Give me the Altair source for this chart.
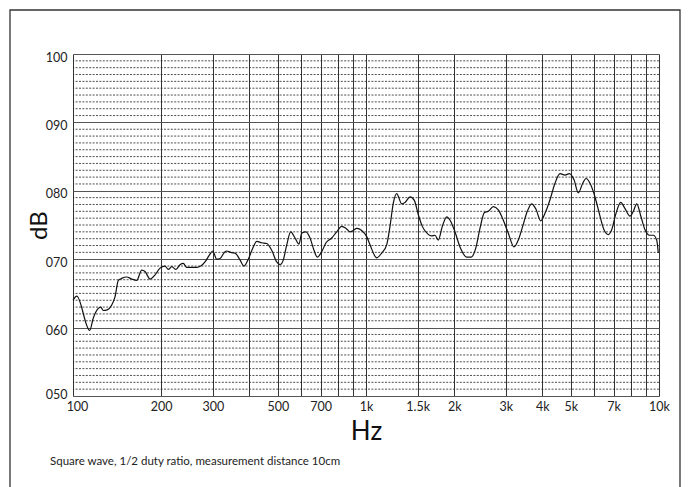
import altair as alt
import pandas as pd

# Frequency response (Hz, dB)
freq_hz = [100, 103, 114, 117.3, 122, 124.3, 126.9, 130.9, 135.6, 139.1,
           142.8, 146.6, 152.5, 158.6, 165, 171.6, 176.1, 183.2, 190.5, 198.2,
           206, 211.5, 217.3, 224.7, 231.9, 237.9, 244.4, 254.2, 264.4, 272.9,
           282.2, 292, 299.9, 309.4, 317.6, 330.2, 334.6, 348, 357.2, 371.5,
           383.4, 396.6, 410.6, 423.6, 440.6, 458.3, 476.7, 495.7, 508.8, 522.2,
           536.4, 553.4, 572.4, 590.7, 603.3, 624.1, 644.1, 664.6, 682.1, 706.1,
           730.4, 763.8, 794.3, 826.2, 854.5, 881.9, 905.1, 929.6, 966.7, 1005.6,
           1032, 1087.7, 1131.3, 1176.5, 1207.5, 1239.3, 1272.9, 1323.8, 1358.6, 1413.2,
           1461.7, 1508.4, 1556.7, 1624, 1676, 1720, 1765.5, 1821.6, 1885.6, 1936,
           2001, 2093, 2207, 2283, 2369, 2449, 2534, 2615, 2720, 2829,
           2942, 3060, 3200, 3310, 3426, 3552, 3677, 3804, 3947, 4082,
           4246, 4416, 4594, 4778, 4943, 5128, 5304, 5490, 5635, 5814,
           6047, 6254, 6490, 6714, 6896, 7133, 7402, 7656, 7962, 8172,
           8393, 8681, 8960, 9267, 9561, 9820, 9945]
level_db = [64.0, 64.6, 59.6, 61.4, 62.8, 63.0, 62.5, 62.6, 63.3, 64.5,
            66.9, 67.2, 67.4, 67.1, 66.9, 68.4, 68.2, 67.1, 67.7, 68.7,
            69.0, 68.5, 68.9, 68.5, 69.2, 69.4, 68.8, 68.8, 68.8, 69.0,
            69.6, 70.6, 71.2, 70.0, 70.1, 71.1, 71.2, 70.95, 70.9, 69.9,
            69.0, 70.0, 71.6, 72.6, 72.4, 72.3, 71.3, 69.6, 69.2, 69.9,
            72.1, 74.0, 73.1, 72.2, 73.8, 74.0, 73.1, 71.3, 70.3, 71.1,
            72.4, 73.1, 74.0, 74.8, 74.5, 74.0, 74.2, 74.5, 74.2, 73.3,
            72.1, 70.2, 70.9, 72.1, 74.8, 78.2, 79.6, 78.1, 78.3, 79.1,
            78.6, 76.5, 74.8, 73.7, 73.4, 73.5, 72.8, 74.8, 76.2, 75.7,
            74.3, 71.8, 70.3, 70.3, 71.6, 74.5, 76.8, 77.0, 77.7, 77.2,
            75.7, 73.8, 71.8, 72.8, 74.8, 77.0, 78.1, 77.3, 75.6, 76.7,
            78.7, 81.1, 82.5, 82.3, 82.5, 81.6, 79.7, 81.1, 81.8, 81.1,
            79.1, 76.7, 74.3, 73.6, 74.3, 76.7, 78.3, 77.4, 76.3, 77.0,
            78.1, 76.2, 74.3, 73.5, 73.5, 72.8, 70.9]

x_grid = [100, 200, 300, 400, 500, 600, 700, 800, 900, 1000, 1500,
          2000, 3000, 4000, 5000, 6000, 7000, 8000, 9000, 10000]
x_labels = [100, 200, 300, 500, 700, 1000, 1500, 2000, 3000, 4000, 5000, 7000, 10000]
y_major = [50, 60, 70, 80, 90, 100]
y_minor = [v for v in range(51, 100) if v % 10 != 0]
footnote = "Square wave, 1/2 duty ratio, measurement distance 10cm"

FONT = "Lato"

df = pd.DataFrame({"f": freq_hz, "db": level_db})
minor_df = pd.DataFrame({"db": y_minor})

x_scale = alt.Scale(type="log", domain=[100, 10000], nice=False)
y_scale = alt.Scale(domain=[50, 100], nice=False, zero=False)

label_list = "[" + ",".join(str(v) for v in x_labels) + "]"
x_axis = alt.Axis(
    values=x_grid,
    grid=True, gridColor="#333333", gridWidth=1, gridOpacity=1,
    ticks=False, domain=False,
    labelExpr=f"indexof({label_list}, datum.value) >= 0 ? (datum.value >= 1000 ? (datum.value/1000) + 'k' : '' + datum.value) : ''",
    labelFont=FONT, labelFontSize=12.5, labelColor="#222222", labelPadding=4,
    labelFlush=False, labelOverlap=False,
    labelOffset={"condition": {"test": "datum.value <= 100", "value": 4}, "value": 0},
    title="Hz", titleFont=FONT, titleFontSize=26, titleFontWeight="normal",
    titleColor="#111111", titleBaseline="alphabetic", titleY=43,
)
y_axis = alt.Axis(
    values=y_major,
    grid=True, gridColor="#555555", gridWidth=1.2, gridOpacity=1,
    ticks=False, domain=False,
    labelExpr="datum.value >= 100 ? '' + datum.value : '0' + datum.value",
    labelFont=FONT, labelFontSize=12.5, labelColor="#222222", labelPadding=6,
    labelBaseline="middle", labelFlush=False,
    labelOffset={"condition": {"test": "datum.value <= 50", "value": -2}, "value": 3},
    title="dB", titleFont=FONT, titleFontSize=24, titleFontWeight="normal",
    titleColor="#111111", titleBaseline="alphabetic", titleX=-27, titleAngle=270,
)

minor = alt.Chart(minor_df).mark_rule(
    color="#222222", strokeWidth=0.8, strokeDash=[2, 1.4]
).encode(y=alt.Y("db:Q", scale=y_scale, axis=y_axis))

line = alt.Chart(df).mark_line(
    color="#111111", strokeWidth=1.2, interpolate="monotone"
).encode(
    x=alt.X("f:Q", scale=x_scale, axis=x_axis),
    y=alt.Y("db:Q", scale=y_scale, axis=y_axis),
)

frame = alt.Chart(alt.Data(values=[{}])).mark_rect(
    filled=False, stroke="#333333", strokeWidth=1.3
).encode(
    x=alt.value(-63), x2=alt.value(607),
    y=alt.value(-44), y2=alt.value(520),
)

note = alt.Chart(alt.Data(values=[{"t": footnote}])).mark_text(
    align="left", baseline="middle", font=FONT, fontSize=11.5, color="#222222"
).encode(
    x=alt.value(-23), y=alt.value(408), text="t:N"
)

chart = alt.layer(minor, line, frame, note).properties(
    width=586, height=342,
    autosize=alt.AutoSizeParams(type="none"),
    padding={"left": 65, "top": 46, "right": 23, "bottom": 110},
).configure_view(stroke="#555555", strokeWidth=1.5).configure(background="white")

chart.save("out.html", embed_options={"renderer": "svg", "actions": False})
